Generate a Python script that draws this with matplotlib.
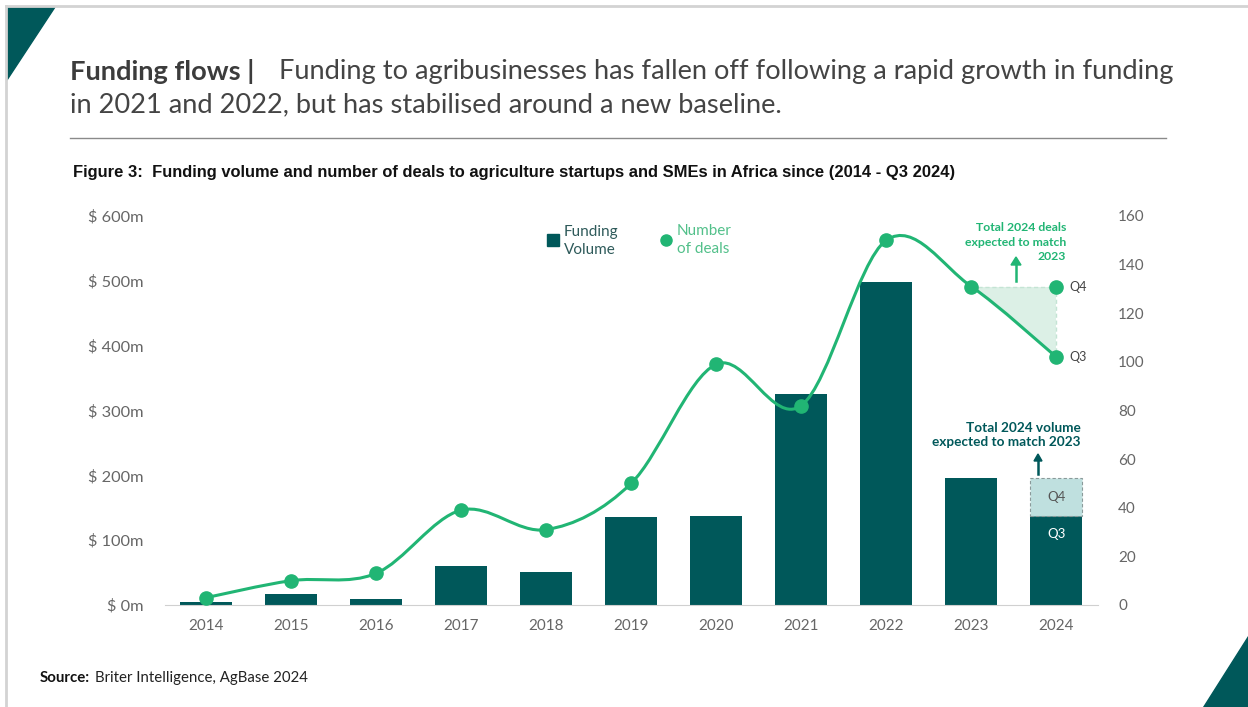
import numpy as np
import matplotlib.pyplot as plt
from matplotlib.path import Path
from matplotlib.patches import PathPatch, Polygon, Rectangle

years = ['2014', '2015', '2016', '2017', '2018', '2019', '2020', '2021', '2022', '2023', '2024']
funding = [4, 17, 9, 60, 51, 136, 137, 326, 498, 196, 137]   # $m, 2024 = Q3
funding_2024_q4 = 59                                           # expected extra to match 2023
deals = [3, 10, 13, 39, 31, 50, 99, 82, 150, 131, 102]         # 2024 = Q3
deals_2024_q4 = 131

left_ticks = [0, 100, 200, 300, 400, 500, 600]
left_labels = ['$ 0m', '$ 100m', '$ 200m', '$ 300m', '$ 400m', '$ 500m', '$ 600m']
right_ticks = [0, 20, 40, 60, 80, 100, 120, 140, 160]

TEAL = '#00585a'
GREEN = '#21b574'
LIGHT_TEAL = '#bfe0df'
LIGHT_GREEN = '#dcf0e6'
GREY = '#666666'
FONT = 'Lato'

W, H = 1248, 707
fig = plt.figure(figsize=(W / 100, H / 100), dpi=100)


def fx(x):
    return x / W


def fy(y):
    return 1 - y / H


# slide decoration
fig.patches.append(Polygon([[fx(7), fy(7)], [fx(55), fy(7)], [fx(7), fy(80)]],
                           closed=True, color=TEAL, transform=fig.transFigure))
fig.patches.append(Polygon([[fx(1248), fy(636)], [fx(1248), fy(707)], [fx(1203), fy(707)]],
                           closed=True, color=TEAL, transform=fig.transFigure))
fig.add_artist(plt.Line2D([fx(6), fx(1248)], [fy(6), fy(6)], color='#d3d3d3', lw=2))
fig.add_artist(plt.Line2D([fx(6), fx(6)], [fy(6), fy(707)], color='#d3d3d3', lw=2))

# title
fig.text(fx(70), fy(72), 'Funding flows |', fontsize=19.6, fontweight='bold', color='#3c3c3c',
         family=FONT, va='center')
fig.text(fx(279), fy(72), 'Funding to agribusinesses has fallen off following a rapid growth in funding',
         fontsize=19.6, color='#444444', family=FONT, va='center')
fig.text(fx(70), fy(105), 'in 2021 and 2022, but has stabilised around a new baseline.',
         fontsize=19.6, color='#444444', family=FONT, va='center')
fig.add_artist(plt.Line2D([fx(70), fx(1166)], [fy(138), fy(138)], color='#8a8a8a', lw=1))

fig.text(fx(73), fy(172), 'Figure 3:  Funding volume and number of deals to agriculture startups and SMEs in Africa since (2014 - Q3 2024)',
         fontsize=11.9, fontweight='bold', color='#111111', family='Liberation Sans', va='center')

# source
fig.text(fx(40), fy(678), 'Source:', fontsize=10.8, fontweight='bold', color='#111111', family=FONT, va='center')
fig.text(fx(95), fy(678), 'Briter Intelligence, AgBase 2024', fontsize=10.8, color='#222222', family=FONT, va='center')

# axes
ax = fig.add_axes([fx(165), fy(605), (1098 - 165) / W, (605 - 216) / H])
x = np.arange(len(years))
bw = 0.61
ax.bar(x, funding, width=bw, color=TEAL, zorder=2)
ax.bar(x[-1], funding_2024_q4, bottom=funding[-1], width=bw, color=LIGHT_TEAL,
       edgecolor='#8a9a9a', linestyle=(0, (3, 2)), linewidth=0.8, zorder=2)
ax.text(x[-1], funding[-1] + funding_2024_q4 / 2, 'Q4', ha='center', va='center',
        fontsize=9.5, color='#555555', family=FONT, zorder=3)
ax.text(x[-1], funding[-1] - 28, 'Q3', ha='center', va='center',
        fontsize=9.5, color='white', family=FONT, zorder=3)

ax.set_xlim(-0.48, 10.49)
ax.set_ylim(0, 600)
ax.set_yticks(left_ticks)
ax.set_yticklabels(left_labels)
ax.set_xticks(x)
ax.set_xticklabels(years)
for s in ['top', 'right', 'left']:
    ax.spines[s].set_visible(False)
ax.spines['bottom'].set_color('#d0d0d0')
ax.tick_params(axis='both', length=0, labelsize=11, labelcolor=GREY)
ax.tick_params(axis='y', labelsize=11.8, pad=15.5)
ax.tick_params(axis='x', pad=10)
for lab in ax.get_xticklabels() + ax.get_yticklabels():
    lab.set_family(FONT)

ax2 = ax.twinx()
ax2.set_ylim(0, 160)
ax2.set_yticks(right_ticks)
for s in ax2.spines.values():
    s.set_visible(False)
ax2.tick_params(axis='y', length=0, labelsize=11, labelcolor=GREY, pad=14.5)
for lab in ax2.get_yticklabels():
    lab.set_family(FONT)

# expected deals triangle
tri = Polygon([[x[-2], deals_2024_q4], [x[-1], deals_2024_q4], [x[-1], deals[-1]]],
              closed=True, facecolor=LIGHT_GREEN, edgecolor='none', zorder=1)
ax2.add_patch(tri)
ax2.plot([x[-2], x[-1], x[-1]], [deals_2024_q4, deals_2024_q4, deals[-1]],
         color='#c4e4d4', lw=1, linestyle=(0, (3, 2)), zorder=1)

# smooth deals line (Catmull-Rom as cubic Bezier)
pts = np.column_stack([x, deals]).astype(float)
verts = [pts[0]]
codes = [Path.MOVETO]
for i in range(len(pts) - 1):
    p0 = pts[i - 1] if i > 0 else pts[i]
    p1, p2 = pts[i], pts[i + 1]
    p3 = pts[i + 2] if i + 2 < len(pts) else pts[i + 1]
    c1 = p1 + (p2 - p0) / 6
    c2 = p2 - (p3 - p1) / 6
    verts += [c1, c2, p2]
    codes += [Path.CURVE4] * 3
ax2.add_patch(PathPatch(Path(verts, codes), facecolor='none', edgecolor=GREEN, lw=2.2, zorder=3,
                        clip_on=False))
ax2.plot(x, deals, 'o', color=GREEN, ms=9.5, zorder=4, clip_on=False)
ax2.plot(x[-1], deals_2024_q4, 'o', color=GREEN, ms=9.5, zorder=4, clip_on=False)
ax2.text(x[-1] + 0.15, deals_2024_q4, 'Q4', va='center', ha='left', fontsize=9, color='#444444', family=FONT)
ax2.text(x[-1] + 0.15, deals[-1], 'Q3', va='center', ha='left', fontsize=9, color='#444444', family=FONT)

# annotations
fig.text(fx(1066), fy(242), 'Total 2024 deals\nexpected to match\n2023', ha='right', va='center',
         fontsize=8.8, fontweight='bold', color=GREEN, family=FONT, linespacing=1.4)
fig.add_artist(plt.Line2D([fx(1016), fx(1016)], [fy(281), fy(264)], color=GREEN, lw=1.8))
fig.patches.append(Polygon([[fx(1011), fy(265)], [fx(1021), fy(265)], [fx(1016), fy(257)]],
                           closed=True, color=GREEN, transform=fig.transFigure))

fig.text(fx(1081), fy(435), 'Total 2024 volume\nexpected to match 2023', ha='right', va='center',
         fontsize=9.8, fontweight='bold', color=TEAL, family=FONT, linespacing=1.2)
fig.add_artist(plt.Line2D([fx(1038), fx(1038)], [fy(474), fy(460)], color=TEAL, lw=1.8))
fig.patches.append(Polygon([[fx(1034), fy(461)], [fx(1042), fy(461)], [fx(1038), fy(454)]],
                           closed=True, color=TEAL, transform=fig.transFigure))

# legend
fig.patches.append(Rectangle((fx(547), fy(246)), 12 / W, 12 / H, color=TEAL, transform=fig.transFigure))
fig.text(fx(564), fy(241), 'Funding\nVolume', ha='left', va='center', fontsize=11, color='#2e5a5a',
         family=FONT, linespacing=1.3)
ax2.plot([fx(666)], [fy(240)], 'o', color=GREEN, ms=8, transform=fig.transFigure, clip_on=False)
fig.text(fx(677), fy(240), 'Number\nof deals', ha='left', va='center', fontsize=11, color='#52c08a',
         family=FONT, linespacing=1.3)

fig.savefig('out.png', dpi=100)
